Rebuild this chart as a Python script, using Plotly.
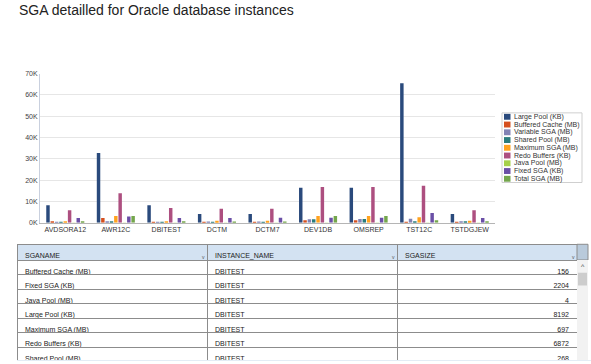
import plotly.graph_objects as go

W, H = 591, 364

instances = ["AVDSORA12", "AWR12C", "DBITEST", "DCTM", "DCTM7", "DEV1DB", "OMSREP", "TST12C", "TSTDGJEW"]

series_names = ["Large Pool (KB)", "Buffered Cache (MB)", "Variable SGA (MB)", "Shared Pool (MB)",
                "Maximum SGA (MB)", "Redo Buffers (KB)", "Java Pool (MB)", "Fixed SGA (KB)", "Total SGA (MB)"]

large_pool    = [8192, 32768, 8192, 4096, 4096, 16384, 16384, 65536, 4096]
buffered      = [700, 2200, 156, 300, 200, 1200, 1200, 200, 200]
variable_sga  = [300, 700, 500, 600, 600, 1600, 1700, 1800, 700]
shared_pool   = [300, 700, 268, 300, 300, 1600, 1700, 700, 700]
maximum_sga   = [700, 3200, 697, 900, 900, 3200, 3200, 2600, 900]
redo_buffers  = [5900, 13800, 6872, 6500, 6500, 16800, 16800, 17400, 5900]
java_pool     = [4, 16, 4, 4, 4, 16, 16, 16, 4]
fixed_sga     = [2200, 2900, 2204, 2200, 2300, 2300, 2300, 4500, 2200]
total_sga     = [700, 3200, 697, 600, 600, 3200, 3200, 1200, 700]

series_values = [large_pool, buffered, variable_sga, shared_pool, maximum_sga,
                 redo_buffers, java_pool, fixed_sga, total_sga]

colors = ["#2a4a7c", "#d5501f", "#8282b4", "#2a7c7c", "#ffa21f",
          "#ad4f80", "#a6d14a", "#6a4fa6", "#74a64c"]

y_ticks = [0, 10000, 20000, 30000, 40000, 50000, 60000, 70000]
y_tick_labels = ["0K", "10K", "20K", "30K", "40K", "50K", "60K", "70K"]

# table data
tbl_sganame = ["Buffered Cache (MB)", "Fixed SGA (KB)", "Java Pool (MB)", "Large Pool (KB)",
               "Maximum SGA (MB)", "Redo Buffers (KB)", "Shared Pool (MB)"]
tbl_instance = ["DBITEST"] * 7
tbl_size = [156, 2204, 4, 8192, 697, 6872, 268]
tbl_headers = ["SGANAME", "INSTANCE_NAME", "SGASIZE"]

FONT = "Liberation Sans"

def px(x):
    return x / W

def py(y):
    return 1 - y / H

fig = go.Figure()
for name, vals, col in zip(series_names, series_values, colors):
    fig.add_trace(go.Bar(x=instances, y=vals, name=name, marker=dict(color=col, line=dict(width=0)),
                         showlegend=False))

# table
fig.add_trace(go.Table(
    domain=dict(x=[px(17), px(577)], y=[0, py(245)]),
    columnwidth=[190, 190, 180],
    header=dict(values=tbl_headers, fill_color="#d3e2f2", line=dict(color="#8c8c8c", width=1),
                align="left", height=16, font=dict(family=FONT, size=7, color="#222")),
    cells=dict(values=[tbl_sganame, tbl_instance, tbl_size], fill_color="white",
               line=dict(color="#8c8c8c", width=1), align=["left", "left", "right"], height=14.5,
               font=dict(family=FONT, size=7, color="#222")),
))

shapes = []
annotations = []

# custom compact legend
lx0, ly0, step = 502, 111, 7.9
shapes.append(dict(type="rect", xref="paper", yref="paper", x0=px(lx0), x1=px(582), y0=py(ly0), y1=py(182),
                   line=dict(color="#cfcfcf", width=1), fillcolor="white"))
for i, (name, col) in enumerate(zip(series_names, colors)):
    cy = 115 + i * step
    shapes.append(dict(type="rect", xref="paper", yref="paper", x0=px(504), x1=px(510.5),
                       y0=py(cy - 3), y1=py(cy + 3), line=dict(width=0), fillcolor=col))
    annotations.append(dict(xref="paper", yref="paper", x=px(512), y=py(cy), text=name, showarrow=False,
                            xanchor="left", yanchor="middle", font=dict(family=FONT, size=7, color="#333")))

# header sort markers
for xr in [203, 393, 573]:
    annotations.append(dict(xref="paper", yref="paper", x=px(xr), y=py(258), text="v", showarrow=False,
                            xanchor="center", yanchor="middle", font=dict(family=FONT, size=5, color="#555")))

# scrollbar
shapes.append(dict(type="rect", xref="paper", yref="paper", x0=px(577), x1=px(588), y0=py(245), y1=py(261),
                   line=dict(color="#8c8c8c", width=1), fillcolor="#b9cadb"))
shapes.append(dict(type="rect", xref="paper", yref="paper", x0=px(577), x1=px(588), y0=py(261), y1=py(363),
                   line=dict(width=0), fillcolor="#f2f2f2"))
shapes.append(dict(type="rect", xref="paper", yref="paper", x0=px(578), x1=px(587), y0=py(274), y1=py(287),
                   line=dict(width=0), fillcolor="#cdcdcd"))
annotations.append(dict(xref="paper", yref="paper", x=px(582.5), y=py(268), text="^", showarrow=False,
                        xanchor="center", yanchor="middle", font=dict(family=FONT, size=7, color="#444")))
shapes.append(dict(type="rect", xref="paper", yref="paper", x0=px(17), x1=px(591), y0=py(363), y1=py(364),
                   line=dict(width=0), fillcolor="#e3ecf5"))

fig.update_layout(
    width=W, height=H,
    margin=dict(l=0, r=0, t=0, b=0),
    paper_bgcolor="white", plot_bgcolor="white",
    barmode="group", bargap=0.23, bargroupgap=0.2,
    title=dict(text="SGA detailled for Oracle database instances", x=px(19), xanchor="left",
               y=py(10), yanchor="middle", font=dict(family=FONT, size=14, color="#222")),
    xaxis=dict(domain=[px(40), px(495)], anchor="y", showline=True, linecolor="#b5b5b5", linewidth=1,
               ticks="", tickfont=dict(family=FONT, size=7, color="#333"), showgrid=False),
    yaxis=dict(domain=[py(223), py(71)], range=[0, 70000], tickvals=y_ticks, ticktext=y_tick_labels,
               showline=True, linecolor="#c9d0de", linewidth=1, gridcolor="#e6e6e6", gridwidth=1,
               zeroline=False, ticks="", tickfont=dict(family=FONT, size=7, color="#444")),
    shapes=shapes, annotations=annotations,
    font=dict(family=FONT),
)

fig.write_html("out.html")
